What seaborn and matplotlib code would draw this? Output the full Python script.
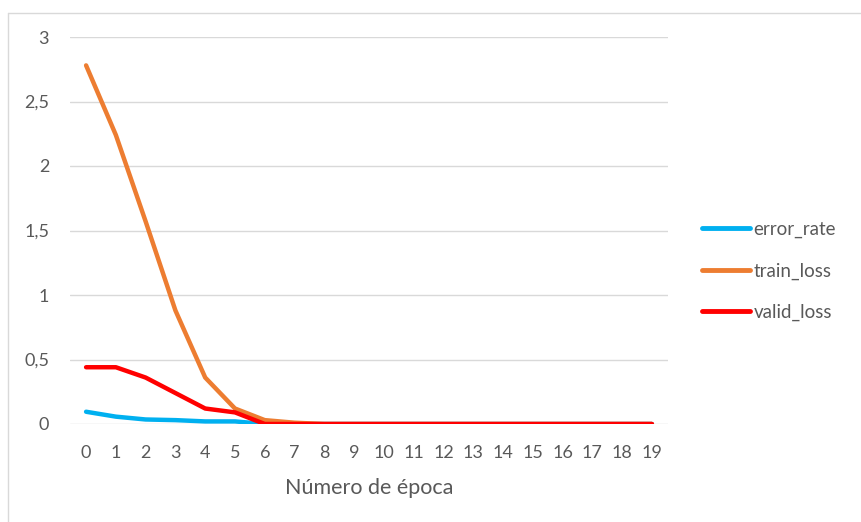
import numpy as np
import pandas as pd
import matplotlib
matplotlib.use('Agg')
import matplotlib.pyplot as plt
from matplotlib.lines import Line2D
from matplotlib.ticker import FuncFormatter
import seaborn as sns

sns.set_theme(style='white')
plt.rcParams['font.family'] = ['Lato', 'DejaVu Sans']

epochs = list(range(20))
error_rate = [0.095, 0.057, 0.035, 0.03, 0.02, 0.02, 0.0] + [0.0] * 13
train_loss = [2.78, 2.24, 1.57, 0.88, 0.36, 0.12, 0.03, 0.01] + [0.0] * 12
valid_loss = [0.44, 0.44, 0.36, 0.24, 0.12, 0.09, 0.0] + [0.0] * 13

series = ['error_rate', 'train_loss', 'valid_loss']
colors = {'error_rate': '#00B0F0', 'train_loss': '#ED7D31', 'valid_loss': '#FF0000'}

df = pd.DataFrame({'epoch': epochs, 'error_rate': error_rate,
                   'train_loss': train_loss, 'valid_loss': valid_loss})
long = df.melt(id_vars='epoch', var_name='serie', value_name='valor')

fig = plt.figure(figsize=(8.61, 5.22), dpi=100)
ax = fig.add_axes([70/861, 1 - 424/522, (668 - 70)/861, (424 - 37)/522])

sns.lineplot(data=long, x='epoch', y='valor', hue='serie', hue_order=series,
             palette=colors, linewidth=3.2, ax=ax, legend=False, zorder=3)

grey = '#595959'
ax.set_xlim(-0.54, 19.54)
ax.set_ylim(0, 3)
ax.set_xticks(epochs)
ax.set_yticks(np.arange(0, 3.01, 0.5))
ax.yaxis.set_major_formatter(FuncFormatter(lambda v, p: ('%g' % v).replace('.', ',')))
ax.grid(axis='y', color='#d9d9d9', linewidth=1)
ax.set_axisbelow(True)
for s in ax.spines.values():
    s.set_visible(False)
ax.tick_params(axis='both', length=0, labelsize=13, colors=grey)
ax.tick_params(axis='y', pad=15)
ax.tick_params(axis='x', pad=15)
ax.set_xlabel('Número de época', fontsize=15.5, color=grey, labelpad=12)
ax.set_ylabel('')

handles = [Line2D([], [], color=colors[s], linewidth=3.5) for s in series]
leg = fig.legend(handles, series, loc='center left', bbox_to_anchor=(702/861, 1 - 271/522),
                 frameon=False, fontsize=13.5, handlelength=2.55, handletextpad=0.2,
                 labelspacing=1.3, borderpad=0, borderaxespad=0)
for t in leg.get_texts():
    t.set_color(grey)

# chart frame, cut off at right and bottom like the screenshot
fig.add_artist(Line2D([8/861, 1], [1 - 13/522, 1 - 13/522], color='#d9d9d9', linewidth=1))
fig.add_artist(Line2D([8/861, 8/861], [0, 1 - 13/522], color='#d9d9d9', linewidth=1))

fig.savefig('out.png', dpi=100)
